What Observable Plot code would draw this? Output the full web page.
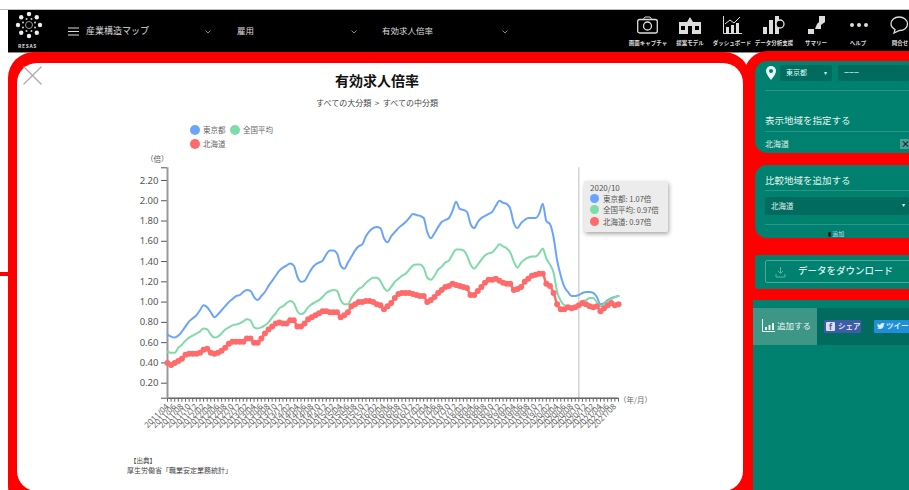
<!DOCTYPE html>
<html lang="ja"><head><meta charset="utf-8">
<script src="https://cdn.jsdelivr.net/npm/d3@7"></script>
<script src="https://cdn.jsdelivr.net/npm/@observablehq/plot@0.6"></script>
<style>
html,body{margin:0;padding:0;width:909px;height:490px;overflow:hidden;background:#fff;font-family:"Noto Sans CJK JP","Noto Sans",sans-serif}
.a{position:absolute;white-space:nowrap}
.t{position:absolute;white-space:nowrap;line-height:1}
.dot{position:absolute;border-radius:50%;width:10px;height:10px}
.ic{position:absolute;top:16px}
.lab{position:absolute;top:41px;transform:translateX(-50%);color:#ddd;font-size:5.5px;line-height:1;white-space:nowrap;font-weight:700}
svg{display:block}
</style></head><body>
<div id="page" style="position:relative;width:909px;height:490px;overflow:hidden">
<!-- header -->
<div class="a" style="left:0;top:9px;width:909px;height:1px;background:#bbb"></div>
<div class="a" style="left:8px;top:10px;width:901px;height:42px;background:#000"></div>
<div class="a" style="left:8px;top:52px;width:901px;height:1px;background:#888"></div>
<!-- red frames -->
<div class="a" style="left:8px;top:52px;width:742px;height:460px;background:#f00;border-radius:26px"></div>
<div class="a" style="left:744px;top:51px;width:180px;height:460px;background:#f00;border-radius:24px 0 0 24px"></div>
<div class="a" style="left:0;top:272px;width:8px;height:4px;background:#f00"></div>
<div class="a" style="left:17px;top:63px;width:726px;height:428px;background:#fff;border-radius:20px"></div>
<!-- right panels -->
<div class="a" style="left:755px;top:61px;width:160px;height:92px;background:#00806f;border-radius:12px 0 0 12px"></div>
<div class="a" style="left:755px;top:165px;width:160px;height:73px;background:#00806f;border-radius:12px 0 0 12px"></div>
<div class="a" style="left:755px;top:255px;width:160px;height:34px;background:#00806f;border-radius:3px 0 0 3px"></div>
<div class="a" style="left:753px;top:300px;width:160px;height:190px;background:#00806f"></div>
<div class="a" style="left:753px;top:308px;width:160px;height:37px;background:#006b5e"></div>
<div class="a" style="left:753px;top:308px;width:64px;height:37px;background:#3d9686"></div>

<div class="a" style="left:780px;top:65px;width:52px;height:16px;background:#006b5e;border-radius:2px"></div>
<div class="a" style="left:838px;top:65px;width:71px;height:16px;background:#006b5e;border-radius:2px"></div>
<div class="t" style="left:786px;top:69px;font-size:7px;color:#dff">東京都</div>
<div class="t" style="left:824px;top:70px;font-size:6px;color:#cfe">▾</div>
<div class="t" style="left:844px;top:68px;font-size:9px;color:#dff">−−−</div>
<svg class="a" style="left:766px;top:66px" width="10" height="14"><path d="M5 0a5 5 0 0 1 5 5c0 3-5 9-5 9S0 8 0 5a5 5 0 0 1 5-5z" fill="#e8fff8"/><circle cx="5" cy="5" r="2" fill="#00806f"/></svg>
<div class="a" style="left:765px;top:90px;width:144px;height:1px;background:#2b9686"></div>
<div class="t" style="left:765px;top:116px;font-size:9.5px;color:#e4f4f0">表示地域を指定する</div>
<div class="a" style="left:765px;top:131px;width:144px;height:1px;background:#2b9686"></div>
<div class="t" style="left:765px;top:140px;font-size:8px;color:#e4f4f0">北海道</div>
<div class="a" style="left:900px;top:139px;width:9px;height:10px;background:#4d9f90"></div>
<div class="t" style="left:901px;top:139px;font-size:9px;color:#123;font-weight:700">×</div>

<div class="t" style="left:765px;top:176px;font-size:9.5px;color:#e4f4f0">比較地域を追加する</div>
<div class="a" style="left:765px;top:190px;width:144px;height:1px;background:#2b9686"></div>
<div class="a" style="left:765px;top:197px;width:144px;height:18px;background:#006b5e;border-radius:2px"></div>
<div class="t" style="left:771px;top:202px;font-size:7.5px;color:#e4f4f0">北海道</div>
<div class="t" style="left:902px;top:202px;font-size:6px;color:#cfe">▾</div>
<div class="a" style="left:765px;top:224px;width:144px;height:1px;background:#2b9686"></div>
<div class="t" style="left:828px;top:231px;font-size:6px;color:#cde"><span style="color:#000">▮</span> 追加</div>

<div class="a" style="left:765px;top:260px;width:150px;height:23px;border:1px solid #4daa9a;border-radius:2px;box-sizing:border-box"></div>
<svg class="a" style="left:775px;top:267px" width="11" height="11"><path d="M5.5 0v6M3 4l2.500 2.500L8 4M1 7v3h9V7" fill="none" stroke="#5fb3a4"/></svg>
<div class="t" style="left:798px;top:266px;font-size:9.500px;color:#dff2ee;font-weight:500">データをダウンロード</div>

<svg class="a" style="left:762px;top:319px" width="13" height="13"><path d="M.5 0v12.500H13" fill="none" stroke="#e8f5f2"/><rect x="3" y="8" width="2" height="3" fill="#e8f5f2"/><rect x="6.500" y="6" width="2" height="5" fill="#e8f5f2"/><rect x="10" y="4" width="2" height="7" fill="#e8f5f2"/></svg>
<div class="t" style="left:777px;top:321px;font-size:8.500px;color:#e8f5f2">追加する</div>
<div class="a" style="left:824px;top:320px;width:37px;height:13px;background:#3c5ca8;border-radius:1px"></div>
<div class="a" style="left:826px;top:322px;width:9px;height:9px;background:#dde;border-radius:1px"></div>
<div class="t" style="left:829px;top:323px;font-size:8px;color:#3c5ca8;font-weight:700">f</div>
<div class="t" style="left:838px;top:322px;font-size:7.500px;color:#dde;font-weight:700">シェア</div>
<div class="a" style="left:874px;top:320px;width:40px;height:13px;background:#1f90d8;border-radius:1px"></div>
<svg class="a" style="left:877px;top:323px" width="8" height="7"><path d="M0 5c3 2 7 1 7-4l1-1-2 .3C4.500-.5 3 1 3.500 2 2 2 1 1 .5.500 0 2 1 3 1 3L.5 3c0 1 1 1.500 1.500 1.500-.5.500-1 .5-2 .5z" fill="#def"/></svg>
<div class="t" style="left:886px;top:322px;font-size:7.500px;color:#def;font-weight:700">ツイー</div>

<!-- header content -->
<svg id="logo" class="a" style="left:14px;top:12px" width="30" height="30"></svg>
<div class="t" style="left:18px;top:43px;font-size:5px;color:#ddd;font-weight:700;letter-spacing:.6px">RESAS</div>
<svg class="a" style="left:68px;top:27px" width="11" height="9"><path d="M0 1h11M0 4.500h11M0 8h11" stroke="#ddd"/></svg>
<div class="t" style="left:86px;top:26px;font-size:9px;color:#ddd">産業構造マップ</div>
<div class="t" style="left:237px;top:26px;font-size:8.500px;color:#ddd">雇用</div>
<div class="t" style="left:382px;top:26px;font-size:8.500px;color:#ddd">有効求人倍率</div>
<svg class="a" style="left:205px;top:30px" width="6" height="4"><path d="M.5.500L3 3 5.500.500" fill="none" stroke="#888"/></svg>
<svg class="a" style="left:351px;top:30px" width="6" height="4"><path d="M.5.500L3 3 5.500.500" fill="none" stroke="#888"/></svg>
<svg class="a" style="left:502px;top:30px" width="6" height="4"><path d="M.5.500L3 3 5.500.500" fill="none" stroke="#888"/></svg>

<svg class="ic" style="left:637px" width="21" height="18"><rect x=".7" y="3.500" width="19.600" height="13.500" rx="2" fill="none" stroke="#ddd" stroke-width="1.300"/><path d="M6 3.500L8 1h5l2 2.500" fill="none" stroke="#ddd"/><circle cx="10.500" cy="10" r="4" fill="none" stroke="#ddd" stroke-width="1.300"/></svg>
<svg class="ic" style="left:679px" width="22" height="18"><path d="M0 6h8L11 1l3 5h8v12H0z" fill="#ddd"/><rect x="2" y="10" width="4" height="4" fill="#000"/><rect x="9" y="10" width="4" height="8" fill="#000"/><rect x="16" y="10" width="4" height="4" fill="#000"/></svg>
<svg class="ic" style="left:723px" width="19" height="18"><path d="M.5 0v17.500H19" fill="none" stroke="#ddd"/><path d="M2 8l5-4 4 3 6-6" fill="none" stroke="#ddd"/><rect x="3" y="11" width="3" height="6" fill="#ddd"/><rect x="8" y="9" width="3" height="8" fill="#ddd"/><rect x="13" y="7" width="3" height="10" fill="#ddd"/></svg>
<svg class="ic" style="left:763px" width="22" height="18"><rect x="0" y="11" width="4" height="7" fill="#ddd"/><rect x="6" y="4" width="4" height="14" fill="#ddd"/><rect x="12" y="0" width="4" height="18" fill="#ddd"/><circle cx="17" cy="8" r="4" fill="#000" stroke="#ddd" stroke-width="1.300"/></svg>
<svg class="ic" style="left:808px" width="18" height="18"><path d="M11 0h6v6l-4 3v4H7l2-5 2-2zM0 13h6v5H0z" fill="#ddd"/></svg>
<svg class="ic" style="left:850px" width="18" height="18"><circle cx="2" cy="9" r="2" fill="#ddd"/><circle cx="9" cy="9" r="2" fill="#ddd"/><circle cx="16" cy="9" r="2" fill="#ddd"/></svg>
<svg class="ic" style="left:890px" width="19" height="18"><path d="M9 1c5 0 8.500 3 8.500 7s-3.500 6.500-8 6.500L4 17l1-3.500C2.500 12 1 10.500 1 8c0-4 3.500-7 8-7z" fill="none" stroke="#ddd" stroke-width="1.300"/></svg>
<div class="lab" style="left:648px">画面キャプチャ</div>
<div class="lab" style="left:690px">提案モデル</div>
<div class="lab" style="left:732px">ダッシュボード</div>
<div class="lab" style="left:774px">データ分析支援</div>
<div class="lab" style="left:816px">サマリー</div>
<div class="lab" style="left:858px">ヘルプ</div>
<div class="lab" style="left:900px">問合せ</div>

<!-- chart chrome -->
<svg class="a" style="left:23px;top:66px" width="19" height="19"><path d="M.5.500l18 18M18.500.500l-18 18" stroke="#aaa" stroke-width="1.200"/></svg>
<div class="t" style="left:0;width:754px;text-align:center;top:73px;font-size:14px;font-weight:700;color:#111">有効求人倍率</div>
<div class="t" style="left:0;width:754px;text-align:center;top:99px;font-size:8px;color:#444">すべての大分類 &nbsp;&gt;&nbsp; すべての中分類</div>

<div class="dot" style="left:190px;top:125px;background:#6ba4ff"></div>
<div class="t" style="left:203px;top:126px;font-size:7.500px;color:#666">東京都</div>
<div class="dot" style="left:230px;top:125px;background:#7fdba7"></div>
<div class="t" style="left:243px;top:126px;font-size:7.500px;color:#666">全国平均</div>
<div class="dot" style="left:190px;top:139px;background:#ff6b6b"></div>
<div class="t" style="left:203px;top:140px;font-size:7.500px;color:#666">北海道</div>
<div class="t" style="left:146px;top:155px;font-size:7.500px;color:#555">（倍）</div>
<div class="t" style="left:619px;top:396px;font-size:7.500px;color:#666">（年/月）</div>
<div class="t" style="left:130px;top:457px;font-size:6.500px;color:#444">【出典】</div>
<div class="t" style="left:127px;top:467px;font-size:7px;color:#444">厚生労働省「職業安定業務統計」</div>

<div id="chart" class="a" style="left:100px;top:150px"></div>

<!-- tooltip -->
<div class="a" style="left:584px;top:181px;width:84px;height:51px;background:#ececec;border-radius:2px;box-shadow:1px 2px 4px rgba(0,0,0,.35)"></div>
<div class="t" style="left:590px;top:184px;font-size:8px;color:#555">2020/10</div>
<div class="dot" style="left:590px;top:194px;width:9px;height:9px;background:#6ba4ff"></div>
<div class="t" style="left:603px;top:195px;font-size:7.500px;color:#555">東京都: 1.07倍</div>
<div class="dot" style="left:590px;top:205px;width:9px;height:9px;background:#7fdba7"></div>
<div class="t" style="left:603px;top:206px;font-size:7.500px;color:#555">全国平均: 0.97倍</div>
<div class="dot" style="left:590px;top:217px;width:9px;height:9px;background:#ff6b6b"></div>
<div class="t" style="left:603px;top:218px;font-size:7.500px;color:#555">北海道: 0.97倍</div>
</div>
<script>
const tokyo = [0.68,0.66,0.65,0.67,0.71,0.76,0.81,0.84,0.87,0.92,0.97,0.95,0.90,0.85,0.88,0.92,0.96,1.00,1.03,1.06,1.07,1.10,1.12,1.11,1.05,1.02,1.06,1.10,1.16,1.21,1.26,1.31,1.34,1.36,1.38,1.36,1.25,1.20,1.21,1.27,1.33,1.37,1.39,1.41,1.47,1.51,1.51,1.48,1.36,1.33,1.39,1.45,1.51,1.55,1.57,1.65,1.70,1.73,1.74,1.73,1.63,1.59,1.65,1.69,1.73,1.76,1.79,1.83,1.87,1.86,1.85,1.83,1.69,1.63,1.68,1.74,1.79,1.81,1.83,1.90,1.99,1.92,1.91,1.89,1.77,1.73,1.79,1.83,1.85,1.87,1.89,1.95,2.00,1.98,1.97,1.92,1.78,1.73,1.78,1.81,1.83,1.83,1.83,1.87,1.97,1.80,1.77,1.64,1.41,1.26,1.15,1.10,1.06,1.06,1.07,1.09,1.10,1.10,1.09,1.05,0.98,0.99,1.02,1.04,1.05,1.06];
const national = [0.51,0.50,0.50,0.55,0.58,0.62,0.65,0.67,0.69,0.71,0.74,0.73,0.68,0.65,0.66,0.69,0.73,0.75,0.77,0.78,0.79,0.81,0.83,0.82,0.75,0.74,0.75,0.77,0.80,0.85,0.89,0.94,0.96,0.99,1.01,0.99,0.91,0.88,0.90,0.95,0.98,1.00,1.02,1.05,1.09,1.11,1.12,1.11,1.02,0.98,0.98,1.04,1.09,1.13,1.15,1.19,1.22,1.24,1.24,1.21,1.14,1.11,1.15,1.20,1.23,1.26,1.28,1.32,1.36,1.37,1.37,1.34,1.24,1.22,1.26,1.32,1.35,1.39,1.41,1.47,1.52,1.52,1.51,1.46,1.37,1.33,1.37,1.42,1.46,1.48,1.49,1.53,1.57,1.55,1.53,1.49,1.40,1.34,1.39,1.42,1.44,1.45,1.45,1.48,1.53,1.43,1.37,1.29,1.10,1.01,0.97,0.96,0.96,0.96,0.97,1.01,1.02,1.04,1.04,1.00,0.96,0.98,1.01,1.03,1.05,1.06];
const hokkaido = [0.40,0.38,0.40,0.42,0.44,0.48,0.49,0.49,0.49,0.50,0.53,0.54,0.50,0.49,0.50,0.52,0.55,0.59,0.61,0.61,0.61,0.61,0.64,0.64,0.60,0.60,0.64,0.69,0.73,0.76,0.79,0.80,0.79,0.79,0.82,0.82,0.76,0.76,0.79,0.83,0.85,0.87,0.89,0.91,0.91,0.90,0.90,0.90,0.85,0.87,0.90,0.96,0.98,1.00,1.00,1.01,1.01,1.00,0.98,0.97,0.93,0.96,0.99,1.04,1.08,1.09,1.09,1.09,1.08,1.07,1.06,1.06,1.00,1.02,1.05,1.09,1.12,1.15,1.16,1.18,1.17,1.16,1.15,1.14,1.07,1.07,1.11,1.15,1.19,1.22,1.22,1.23,1.21,1.19,1.18,1.18,1.12,1.13,1.15,1.20,1.23,1.26,1.27,1.28,1.28,1.18,1.16,1.09,0.98,0.93,0.93,0.95,0.94,0.95,0.97,0.99,0.98,0.96,0.95,0.96,0.91,0.94,0.97,0.99,0.97,0.98];
const yTicks = [0.20,0.40,0.60,0.80,1.00,1.20,1.40,1.60,1.80,2.00,2.20];
const yDomain = [0.052,2.325];
const hoverMonth = "2020/10";
const months = [];
for (let y = 2011, m = 4; months.length < tokyo.length; ) {
  months.push(y + "/" + String(m).padStart(2, "0"));
  if (++m > 12) { m = 1; y++; }
}
const row = (s) => (v, i) => ({month: months[i], value: v, series: s});
const blue = tokyo.map(row("東京都"));
const green = national.map(row("全国平均"));
const red = hokkaido.map(row("北海道"));
const axisColor = "#666", textColor = "#555";

const chart = Plot.plot({
  width: 560, height: 290,
  marginLeft: 67, marginRight: 42, marginTop: 17.3, marginBottom: 42.3,
  style: {background: "transparent", fontFamily: '"Noto Sans","DejaVu Sans",sans-serif', overflow: "visible"},
  x: {type: "point", domain: months, padding: 0},
  y: {domain: yDomain},
  marks: [
    Plot.ruleX([hoverMonth], {stroke: "#ccc", strokeWidth: 1.3}),
    Plot.axisX({
      ticks: months, tickSize: 4, tickPadding: 3, stroke: axisColor,
      tickRotate: -45, fontSize: 8, fill: "#666", label: null,
      tickFormat: (d) => +d.slice(5) % 2 === 0 ? d : ""
    }),
    Plot.axisY({
      ticks: [...yDomain, ...yTicks], tickSize: 6, tickPadding: 3, stroke: "#555",
      fontSize: 9.5, fill: textColor, label: null,
      tickFormat: (d) => yTicks.includes(d) ? d.toFixed(2) : ""
    }),
    Plot.ruleY([yDomain[0]], {stroke: "#666", strokeWidth: 1.5}),
    Plot.ruleX([months[0]], {stroke: "#999", strokeWidth: 2}),
    Plot.line(blue, {x: "month", y: "value", stroke: "#6ba4ff", strokeWidth: 2, curve: "monotone-x"}),
    Plot.line(green, {x: "month", y: "value", stroke: "#7fdba7", strokeWidth: 2, curve: "monotone-x"}),
    Plot.line(red, {x: "month", y: "value", stroke: "#ff6b6b", strokeWidth: 2.5, curve: "monotone-x"}),
    Plot.dot(red, {x: "month", y: "value", fill: "#ff6b6b", r: 3})
  ]
});
document.getElementById("chart").appendChild(chart);

// RESAS logo ornament
const logo = d3.select("#logo");
logo.append("circle").attr("cx",15).attr("cy",13).attr("r",3.500).attr("fill","none").attr("stroke","#999");
d3.range(8).forEach(k => {
  const a = k * Math.PI / 4;
  logo.append("circle").attr("cx",15+11*Math.cos(a)).attr("cy",13+11*Math.sin(a)).attr("r",2.200).attr("fill","#eee");
  logo.append("circle").attr("cx",15+6.500*Math.cos(a+.4)).attr("cy",13+6.500*Math.sin(a+.4)).attr("r",1).attr("fill","#ccc");
});
</script>
</body></html>
